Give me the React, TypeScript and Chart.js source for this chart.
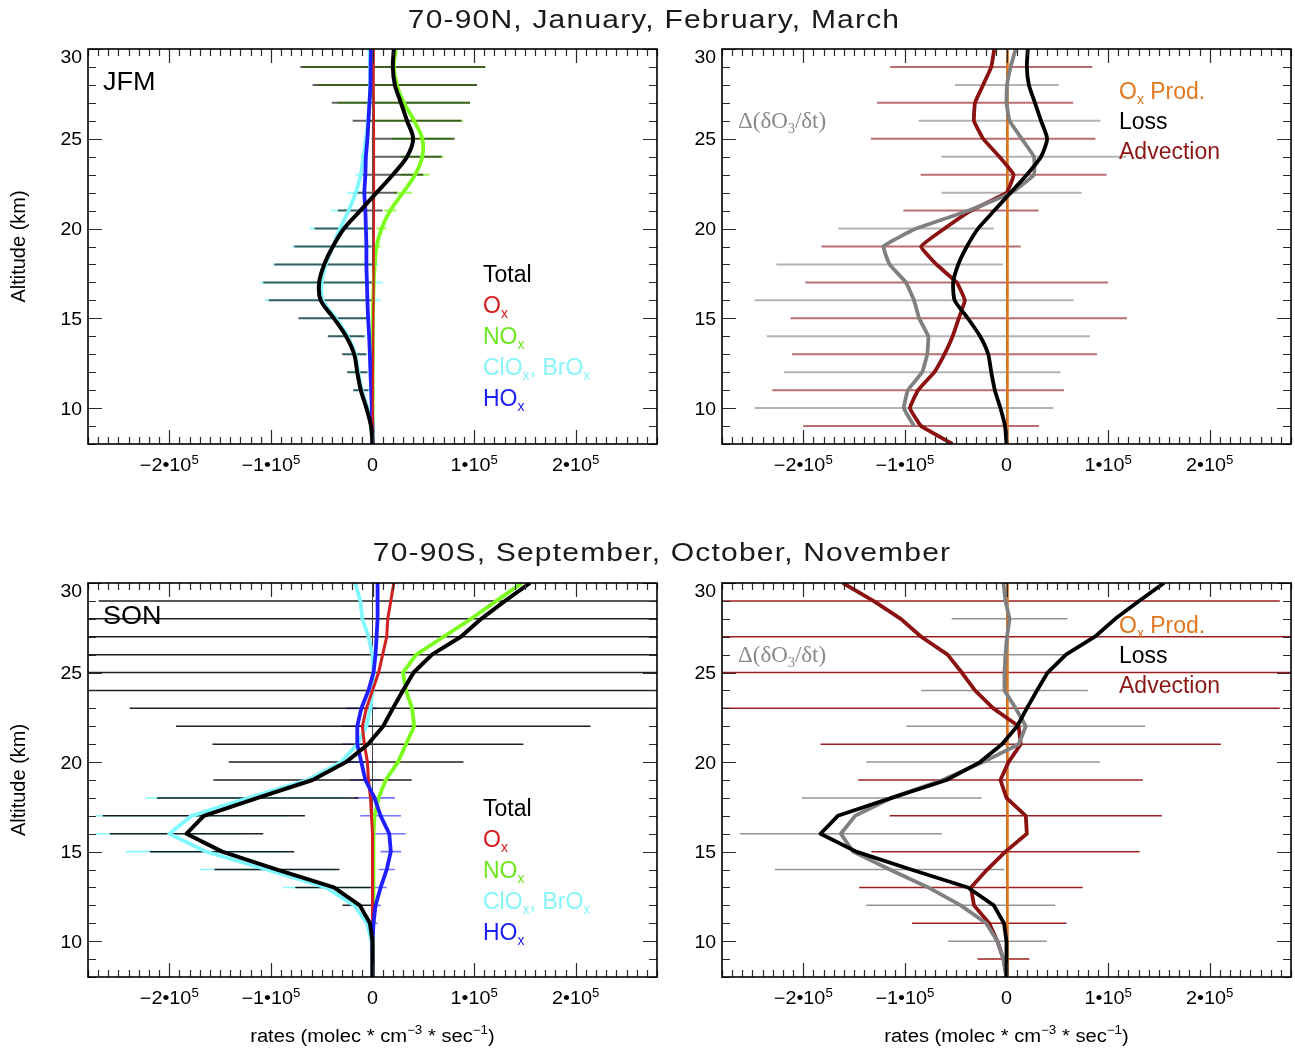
import React, { useEffect, useRef } from 'react';
import { Chart, registerables } from 'chart.js';

Chart.register(...registerables);

// ---------------- data (rates in units of 1e4 molec cm^-3 s^-1) ----------------
const UNIT = 1e4;
const ALT = [8, 9, 10, 11, 12, 13, 14, 15, 16, 17, 18, 19, 20, 21, 22, 23, 24, 25, 26, 27, 28, 29, 30];

const X_MIN = -2.8e5;
const X_MAX = 2.8e5;
const Y_MIN = 8;
const Y_MAX = 30;
const X_MAJOR = [-2e5, -1e5, 0, 1e5, 2e5];
const X_TICK_BASE = ['\u22122\u202210', '\u22121\u202210', '0', '1\u202210', '2\u202210'];
const X_TICK_EXP = ['5', '5', '', '5', '5'];
const X_MINOR_STEP = 1e4;
const Y_MAJOR = [10, 15, 20, 25, 30];
const Y_MINOR_STEP = 1;

// 70-90N JFM, species contributions
const JFM_TOTAL = [0, -0.15, -0.6, -1.15, -1.5, -1.8, -2.6, -3.8, -5.1, -5.25, -4.75, -3.9, -2.8, -1.2, 0.4, 2.0, 3.4, 4.0, 3.4, 2.8, 2.2, 2.0, 2.1];
const JFM_OX = [0, 0.02, 0.03, 0.04, 0.05, 0.06, 0.07, 0.08, 0.1, 0.1, 0.12, 0.13, 0.14, 0.15, 0.15, 0.15, 0.15, 0.15, 0.14, 0.13, 0.12, 0.12, 0.12];
const JFM_NOX = [0, 0.01, 0.01, 0.02, 0.02, 0.03, 0.03, 0.04, 0.07, 0.13, 0.23, 0.4, 0.9, 1.75, 3.0, 4.2, 4.9, 4.9, 4.1, 3.1, 2.4, 2.1, 2.3];
const JFM_CLOX = [0, -0.15, -0.5, -1.05, -1.4, -1.7, -2.45, -3.6, -4.9, -5.0, -4.6, -3.9, -3.2, -2.35, -1.65, -1.15, -0.9, -0.65, -0.45, -0.3, -0.25, -0.25, -0.3];
const JFM_HOX = [0, 0, -0.07, -0.13, -0.2, -0.26, -0.33, -0.43, -0.5, -0.55, -0.6, -0.6, -0.65, -0.7, -0.8, -0.7, -0.65, -0.5, -0.4, -0.3, -0.2, -0.18, -0.15];
const JFM_TOTAL_ERR = [0, 0, 0, 0.75, 1.0, 1.2, 1.8, 3.5, 5.1, 5.5, 4.9, 3.8, 2.9, 2.2, 2.0, 3.0, 3.4, 4.1, 5.35, 6.8, 8.1, 9.1, 0];
const JFM_NOX_ERR = [0, 0, 0, 0, 0, 0, 0, 0, 0, 0, 0, 0.4, 0.5, 0.6, 0.9, 1.4, 2.1, 3.0, 4.8, 6.5, 7.8, 9.0, 0];
const JFM_CLOX_ERR = [0, 0, 0, 0.8, 1.0, 1.1, 1.8, 3.6, 5.7, 6.0, 5.2, 4.0, 3.0, 1.75, 0.85, 0.5, 0.3, 0, 0, 0, 0, 0, 0];

// 70-90N JFM, budget
const JFM_LOSS = JFM_TOTAL;
const JFM_ADV = [-5.3, -8.4, -9.5, -8.7, -7.1, -6.1, -5.3, -4.7, -4.1, -4.9, -6.9, -8.4, -6.1, -3.5, 0, 0.7, -0.7, -2.3, -3.2, -3.1, -2.3, -1.5, -1.2];
const JFM_DELTA = [null, -9.1, -10.1, -9.7, -8.3, -7.8, -7.7, -8.6, -9.1, -9.9, -11.5, -12.1, -8.9, -3.7, 0.5, 2.7, 2.7, 1.5, 0.3, 0, 0.05, 0.4, 0.9];
const JFM_PROD = [0.05, 0.06, 0.07, 0.08, 0.08, 0.09, 0.1, 0.1, 0.1, 0.1, 0.1, 0.1, 0.1, 0.1, 0.1, 0.1, 0.1, 0.1, 0.1, 0.1, 0.1, 0.1, 0.1];
const JFM_ADV_ERR = [0, 11.6, 0, 14.35, 0, 15.0, 0, 16.55, 0, 14.9, 0, 9.8, 0, 6.65, 0, 9.15, 0, 11.05, 0, 9.65, 0, 9.95, 0];
const JFM_DELTA_ERR = [0, 0, 14.7, 0, 13.6, 0, 15.9, 0, 15.7, 0, 11.15, 0, 7.65, 0, 6.9, 0, 9.1, 0, 8.95, 0, 5.1, 0, 0];

// 70-90S SON, species contributions
const SON_TOTAL = [0, 0, 0, -0.25, -1.25, -3.8, -9.4, -14.8, -18.3, -16.6, -11.3, -5.9, -2.6, -0.45, 1.05, 2.0, 3.0, 4.05, 5.85, 8.7, 10.7, 13.05, 15.5];
const SON_OX = [0, 0, 0, 0, 0, 0, 0, 0, 0, -0.1, -0.2, -0.4, -0.5, -0.8, -1.0, -0.6, 0, 0.6, 1.0, 1.4, 1.5, 1.8, 2.1];
const SON_NOX = [0, 0, 0.02, 0.05, 0.1, 0.1, 0.1, 0.1, 0.1, 0.2, 0.6, 1.3, 2.5, 3.3, 4.1, 3.9, 3.3, 3.0, 4.3, 7.0, 9.7, 12.2, 14.7];
const SON_CLOX = [0, 0, -0.1, -0.55, -1.8, -4.6, -10.4, -16.4, -20.0, -17.8, -12.2, -6.4, -3.1, -1.5, -0.6, -0.2, 0, 0.1, 0, -0.4, -1.0, -1.2, -1.7];
const SON_HOX = [0, 0, 0, 0.1, 0.3, 0.8, 1.4, 1.8, 1.65, 0.8, 0.2, -0.7, -1.1, -1.5, -1.5, -1.1, -0.4, 0.1, 0.3, 0.4, 0.5, 0.5, 0.5];
const SON_TOTAL_ERR = [0, 0, 0, 0.4, 1.7, 3.8, 6.15, 7.1, 7.55, 9.95, 9.9, 9.75, 11.55, 15.3, 20.4, 25.9, 40, 40, 40, 40, 40, 40, 0];
const SON_CLOX_ERR = [0, 0, 0, 0, 0, 4.2, 6.6, 7.9, 7.3, 9.5, 10.1, 0, 0, 0, 0, 0, 0, 0, 0, 0, 0, 0, 0];
const SON_HOX_ERR = [0, 0, 0, 0.4, 0.5, 0.6, 0.8, 1.0, 1.6, 2.0, 2.0, 1.5, 1.5, 1.5, 1.5, 1.5, 0, 0, 0, 0, 0, 0, 0];

// 70-90S SON, budget
const SON_LOSS = SON_TOTAL;
const SON_ADV = [0, -0.3, -0.9, -1.7, -3.2, -3.5, -1.9, -0.1, 2.0, 1.9, 0, -0.6, 0.2, 1.4, 1.2, -1.3, -3.1, -4.4, -5.8, -8.4, -10.4, -13.1, -16.1];
const SON_DELTA = [0, -0.3, -0.9, -2.0, -4.5, -7.7, -11.5, -15.1, -16.3, -14.9, -11.3, -6.3, -2.3, 1.2, 1.9, 0.9, -0.2, -0.2, -0.1, 0.05, 0.3, -0.1, -0.3];
const SON_PROD = [0.05, 0.06, 0.07, 0.08, 0.08, 0.09, 0.1, 0.1, 0.1, 0.1, 0.1, 0.1, 0.1, 0.1, 0.1, 0.1, 0.1, 0.1, 0.1, 0.1, 0.1, 0.1, 0.1];
const SON_ADV_ERR = [0, 2.55, 0, 7.6, 0, 11.0, 0, 13.2, 0, 13.4, 0, 14.0, 0, 19.7, 0, 28.2, 0, 40, 0, 40, 0, 40, 0];
const SON_DELTA_ERR = [0, 0, 4.85, 0, 9.3, 0, 11.3, 0, 9.95, 0, 8.85, 0, 11.5, 0, 11.75, 0, 8.2, 0, 5.8, 0, 5.7, 0, 0];

// ---------------- styles ----------------
const C_BLACK = '#000000';
const C_OX = '#d21f1f';
const C_NOX = '#7cfc1c';
const C_CLOX = '#80f8ff';
const C_HOX = '#1f1fff';
const C_ADV = '#8c1111';
const C_DELTA = '#808080';
const C_PROD = '#e3781e';
const SANS = '"Liberation Sans", Arial, Helvetica, sans-serif';
const SERIF = '"Liberation Serif", "Times New Roman", serif';

// ---------------- helpers ----------------
type Pt = { x: number; y: number };
const toLine = (vals: (number | null)[]): Pt[] =>
  vals.map((v, i) => (v === null ? { x: NaN, y: NaN } : { x: v * UNIT, y: ALT[i] }));

const toBars = (center: (number | null)[], err: number[]): Pt[] => {
  const pts: Pt[] = [];
  ALT.forEach((a, i) => {
    const c = center[i];
    const e = err[i];
    if (c !== null && e > 0) {
      pts.push({ x: (c - e) * UNIT, y: a }, { x: (c + e) * UNIT, y: a }, { x: NaN, y: NaN });
    }
  });
  return pts;
};

const zeroLine = (): Pt[] => [{ x: 0, y: Y_MIN }, { x: 0, y: Y_MAX }];

type Layer = { data: Pt[]; color: string; width: number; tension?: number };

const buildDatasets = (layers: Layer[]) =>
  layers.map((l, idx) => ({
    data: l.data,
    borderColor: l.color,
    backgroundColor: l.color,
    borderWidth: l.width,
    showLine: true,
    pointRadius: 0,
    pointHoverRadius: 0,
    tension: l.tension ?? 0,
    order: layers.length - idx,
    clip: 0,
    borderCapStyle: 'butt',
    borderJoinStyle: 'round',
  }));

type Part = { t: string; s?: number; dy?: number };

function drawParts(
  ctx: CanvasRenderingContext2D,
  parts: Part[],
  x: number,
  y: number,
  align: 'left' | 'center' | 'right',
  color: string,
  family: string,
  size: number,
  sx = 1
) {
  ctx.save();
  ctx.fillStyle = color;
  ctx.textBaseline = 'alphabetic';
  ctx.textAlign = 'left';
  let w = 0;
  const widths = parts.map((p) => {
    ctx.font = `${p.s ?? size}px ${family}`;
    const m = ctx.measureText(p.t).width;
    w += m;
    return m;
  });
  ctx.translate(x, y);
  ctx.scale(sx, 1);
  let cx = align === 'center' ? -w / 2 : align === 'right' ? -w : 0;
  parts.forEach((p, i) => {
    ctx.font = `${p.s ?? size}px ${family}`;
    ctx.fillText(p.t, cx, p.dy ?? 0);
    cx += widths[i];
  });
  ctx.restore();
}

type LegendItem = { parts: Part[]; color: string };
type DecoOpts = {
  legend: LegendItem[];
  legendDX: number;
  legendDY: number;
  legendStep: number;
  label?: string;
  delta?: boolean;
  yTitle?: boolean;
  xTitle?: boolean;
};

const sub = (t: string): Part => ({ t, s: 14, dy: 5 });

const LEFT_LEGEND: LegendItem[] = [
  { parts: [{ t: 'Total' }], color: '#000000' },
  { parts: [{ t: 'O' }, sub('x')], color: '#d41a1a' },
  { parts: [{ t: 'NO' }, sub('x')], color: '#6ee81e' },
  { parts: [{ t: 'ClO' }, sub('x'), { t: ', BrO' }, sub('x')], color: '#88f6f8' },
  { parts: [{ t: 'HO' }, sub('x')], color: '#2020f0' },
];
const RIGHT_LEGEND: LegendItem[] = [
  { parts: [{ t: 'O' }, sub('x'), { t: ' Prod.' }], color: '#e07820' },
  { parts: [{ t: 'Loss' }], color: '#000000' },
  { parts: [{ t: 'Advection' }], color: '#8c1515' },
];

const decoPlugin = {
  id: 'deco',
  afterDatasetsDraw(chart: any, _args: any, opts: DecoOpts) {
    const { ctx, chartArea: ca } = chart;
    const xs = chart.scales.x;
    const ys = chart.scales.y;
    ctx.save();
    // ticks (inward)
    ctx.strokeStyle = '#2a2a2a';
    ctx.lineWidth = 1.2;
    ctx.beginPath();
    const k0 = Math.ceil(X_MIN / X_MINOR_STEP);
    const k1 = Math.floor(X_MAX / X_MINOR_STEP);
    for (let k = k0; k <= k1; k++) {
      const v = k * X_MINOR_STEP;
      const px = Math.round(xs.getPixelForValue(v)) + 0.5;
      const len = X_MAJOR.includes(v) ? 14 : 7;
      ctx.moveTo(px, ca.bottom);
      ctx.lineTo(px, ca.bottom - len);
      ctx.moveTo(px, ca.top);
      ctx.lineTo(px, ca.top + len);
    }
    for (let a = Y_MIN; a <= Y_MAX; a += Y_MINOR_STEP) {
      const py = Math.round(ys.getPixelForValue(a)) + 0.5;
      const len = Y_MAJOR.includes(a) ? 14 : 8;
      ctx.moveTo(ca.left, py);
      ctx.lineTo(ca.left + len, py);
      ctx.moveTo(ca.right, py);
      ctx.lineTo(ca.right - len, py);
    }
    ctx.stroke();
    // frame
    ctx.strokeStyle = '#000';
    ctx.lineWidth = 1.6;
    ctx.strokeRect(ca.left, ca.top, ca.right - ca.left, ca.bottom - ca.top);

    // y tick labels
    Y_MAJOR.forEach((a) => {
      const py = Math.max(ys.getPixelForValue(a), ca.top + 7);
      drawParts(ctx, [{ t: String(a) }], ca.left - 6, py + 6.5, 'right', '#000', SANS, 18, 1.08);
    });
    // x tick labels
    X_MAJOR.forEach((v, i) => {
      const px = xs.getPixelForValue(v);
      const parts: Part[] = [{ t: X_TICK_BASE[i] }];
      if (X_TICK_EXP[i]) parts.push({ t: X_TICK_EXP[i], s: 12, dy: -7.5 });
      drawParts(ctx, parts, px, ca.bottom + 27, 'center', '#000', SANS, 18, 1.1);
    });

    // legend
    opts.legend.forEach((item, i) => {
      drawParts(ctx, item.parts, ca.left + opts.legendDX, ca.top + opts.legendDY + i * opts.legendStep, 'left', item.color, SANS, 23);
    });
    if (opts.label) {
      drawParts(ctx, [{ t: opts.label }], ca.left + 15, ca.top + 41, 'left', '#000', SANS, 26, 1.04);
    }
    if (opts.delta) {
      drawParts(
        ctx,
        [{ t: '\u0394(\u03B4O' }, { t: '3', s: 14, dy: 5 }, { t: '/\u03B4t)' }],
        ca.left + 16,
        ca.top + 79,
        'left',
        '#8a8a8a',
        SERIF,
        23
      );
    }
    if (opts.yTitle) {
      ctx.save();
      ctx.translate(25, (ca.top + ca.bottom) / 2);
      ctx.rotate(-Math.PI / 2);
      drawParts(ctx, [{ t: 'Altitude (km)' }], 0, 0, 'center', '#000', SANS, 20);
      ctx.restore();
    }
    if (opts.xTitle) {
      drawParts(
        ctx,
        [
          { t: 'rates (molec * cm' },
          { t: '\u22123', s: 12, dy: -8 },
          { t: ' * sec' },
          { t: '\u22121', s: 12, dy: -8 },
          { t: ')' },
        ],
        (ca.left + ca.right) / 2,
        ca.bottom + 65,
        'center',
        '#000',
        SANS,
        18,
        1.12
      );
    }
    ctx.restore();
  },
};

// ---------------- panels ----------------
type PanelCfg = {
  x: number;
  y: number;
  w: number;
  h: number;
  pad: { left: number; top: number; right: number; bottom: number };
  layers: Layer[];
  deco: DecoOpts;
};

const SMOOTH = 0.32;

const PANELS: PanelCfg[] = [
  {
    x: 0,
    y: 0,
    w: 660,
    h: 520,
    pad: { left: 88, top: 49, right: 3, bottom: 76 },
    layers: [
      { data: toBars(JFM_NOX, JFM_NOX_ERR), color: 'rgba(140,250,60,0.85)', width: 2 },
      { data: toBars(JFM_CLOX, JFM_CLOX_ERR), color: 'rgba(128,248,255,0.85)', width: 2 },
      { data: toBars(JFM_TOTAL, JFM_TOTAL_ERR), color: 'rgba(0,0,0,0.62)', width: 2 },
      { data: zeroLine(), color: '#555555', width: 1 },
      { data: toLine(JFM_NOX), color: C_NOX, width: 3.8, tension: SMOOTH },
      { data: toLine(JFM_CLOX), color: C_CLOX, width: 3.8, tension: SMOOTH },
      { data: toLine(JFM_HOX), color: C_HOX, width: 3.8, tension: SMOOTH },
      { data: toLine(JFM_OX), color: C_OX, width: 2.2, tension: SMOOTH },
      { data: toLine(JFM_TOTAL), color: C_BLACK, width: 4, tension: SMOOTH },
    ],
    deco: { legend: LEFT_LEGEND, legendDX: 395, legendDY: 232.5, legendStep: 31.2, label: 'JFM', yTitle: true },
  },
  {
    x: 660,
    y: 0,
    w: 635,
    h: 520,
    pad: { left: 62, top: 49, right: 4, bottom: 76 },
    layers: [
      { data: toBars(JFM_ADV, JFM_ADV_ERR), color: 'rgba(165,70,70,0.78)', width: 2 },
      { data: toBars(JFM_DELTA, JFM_DELTA_ERR), color: 'rgba(150,150,150,0.72)', width: 2 },
      { data: zeroLine(), color: '#444444', width: 1 },
      { data: toLine(JFM_PROD), color: C_PROD, width: 2.6 },
      { data: toLine(JFM_ADV), color: C_ADV, width: 3.8, tension: 0.1 },
      { data: toLine(JFM_DELTA), color: C_DELTA, width: 3.8, tension: 0.1 },
      { data: toLine(JFM_LOSS), color: C_BLACK, width: 3.8, tension: 0.2 },
    ],
    deco: { legend: RIGHT_LEGEND, legendDX: 397, legendDY: 49.5, legendStep: 30.3, delta: true },
  },
  {
    x: 0,
    y: 520,
    w: 660,
    h: 529,
    pad: { left: 88, top: 63, right: 3, bottom: 72 },
    layers: [
      { data: toBars(SON_CLOX, SON_CLOX_ERR), color: 'rgba(128,248,255,0.9)', width: 1.6 },
      { data: toBars(SON_HOX, SON_HOX_ERR), color: 'rgba(80,80,255,0.8)', width: 1.6 },
      { data: toBars(SON_TOTAL, SON_TOTAL_ERR), color: 'rgba(0,0,0,0.88)', width: 1.5 },
      { data: zeroLine(), color: '#444444', width: 1 },
      { data: toLine(SON_NOX), color: C_NOX, width: 3.8 },
      { data: toLine(SON_CLOX), color: C_CLOX, width: 3.8 },
      { data: toLine(SON_OX), color: C_OX, width: 3.0 },
      { data: toLine(SON_HOX), color: C_HOX, width: 3.8 },
      { data: toLine(SON_TOTAL), color: C_BLACK, width: 4 },
    ],
    deco: { legend: LEFT_LEGEND, legendDX: 395, legendDY: 232.5, legendStep: 31.2, label: 'SON', yTitle: true, xTitle: true },
  },
  {
    x: 660,
    y: 520,
    w: 635,
    h: 529,
    pad: { left: 62, top: 63, right: 4, bottom: 72 },
    layers: [
      { data: toBars(SON_ADV, SON_ADV_ERR), color: 'rgba(150,20,20,0.95)', width: 1.5 },
      { data: toBars(SON_DELTA, SON_DELTA_ERR), color: 'rgba(130,130,130,0.85)', width: 1.5 },
      { data: zeroLine(), color: '#444444', width: 1 },
      { data: toLine(SON_PROD), color: C_PROD, width: 2.6 },
      { data: toLine(SON_ADV), color: C_ADV, width: 3.8 },
      { data: toLine(SON_DELTA), color: C_DELTA, width: 3.8 },
      { data: toLine(SON_LOSS), color: C_BLACK, width: 3.8 },
    ],
    deco: { legend: RIGHT_LEGEND, legendDX: 397, legendDY: 49.5, legendStep: 30.3, delta: true, xTitle: true },
  },
];

function Panel({ cfg }: { cfg: PanelCfg }) {
  const ref = useRef<HTMLCanvasElement>(null);
  useEffect(() => {
    const canvas = ref.current;
    if (!canvas) return;
    const chart = new Chart(canvas, {
      type: 'scatter',
      data: { datasets: buildDatasets(cfg.layers) as any },
      options: {
        responsive: false,
        maintainAspectRatio: false,
        animation: false,
        events: [],
        layout: { padding: cfg.pad },
        scales: {
          x: { type: 'linear', min: X_MIN, max: X_MAX, display: false },
          y: { type: 'linear', min: Y_MIN, max: Y_MAX, display: false },
        },
        plugins: {
          legend: { display: false },
          tooltip: { enabled: false },
          deco: cfg.deco,
        } as any,
      },
      plugins: [decoPlugin as any],
    });
    return () => chart.destroy();
  }, [cfg]);
  return (
    <canvas
      ref={ref}
      width={cfg.w}
      height={cfg.h}
      style={{ position: 'absolute', left: cfg.x, top: cfg.y, width: cfg.w, height: cfg.h }}
    />
  );
}

const titleStyle = (left: number, top: number): React.CSSProperties => ({
  position: 'absolute',
  left,
  top,
  transform: 'translateX(-50%) scaleX(1.2)',
  fontFamily: '"Liberation Sans", Arial, sans-serif',
  fontSize: 25,
  letterSpacing: '1px',
  lineHeight: '28px',
  color: '#1a1a1a',
  whiteSpace: 'nowrap',
});

export default function App() {
  return (
    <div style={{ position: 'absolute', left: 0, top: 0, width: 1295, height: 1049, background: '#fff', overflow: 'hidden' }}>
      {PANELS.map((p, i) => (
        <Panel key={i} cfg={p} />
      ))}
      <div style={titleStyle(654, 5)}>70-90N, January, February, March</div>
      <div style={titleStyle(662, 538)}>70-90S, September, October, November</div>
    </div>
  );
}
